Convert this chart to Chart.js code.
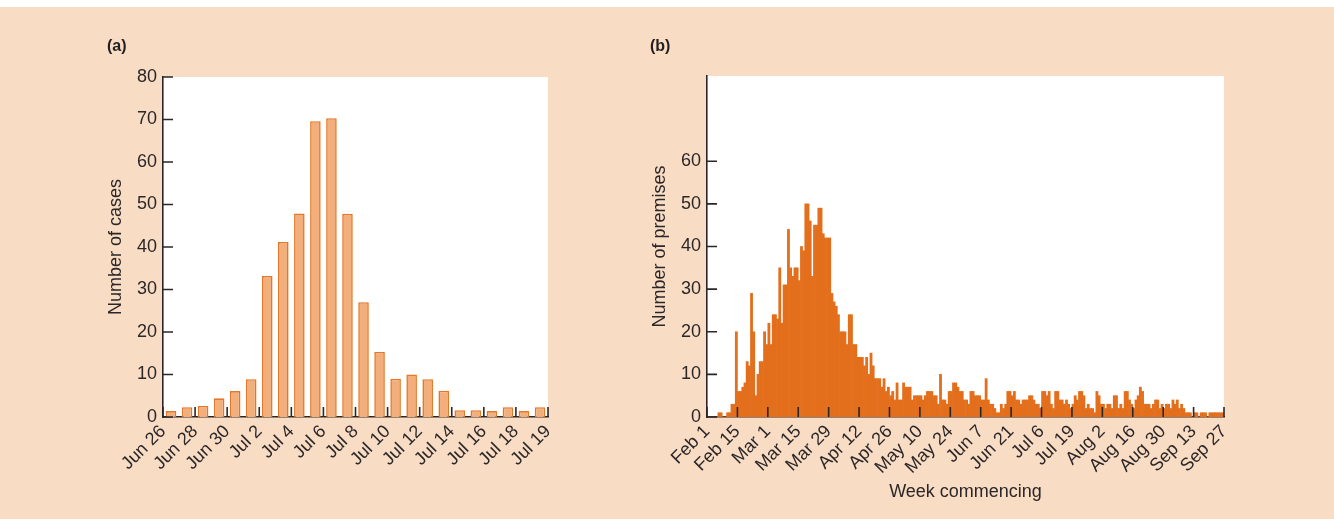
<!DOCTYPE html>
<html>
<head>
<meta charset="utf-8">
<script src="https://cdn.jsdelivr.net/npm/chart.js@4.4.1/dist/chart.umd.min.js"></script>
<style>
  body { margin: 0; background: #ffffff; font-family: "Liberation Sans", Arial, sans-serif; }
  #frame { position: absolute; left: 0; top: 7px; width: 1334px; height: 512px; background: #f9dcc4; }
  .panel { position: absolute; top: 0; height: 523px; }
  .tag { position: absolute; font-weight: bold; font-size: 16px; color: #231f20; }
</style>
</head>
<body>
<div id="frame"></div>
<div class="panel" style="left:0;width:600px"><canvas id="chartA" width="600" height="523"></canvas></div>
<div class="panel" style="left:600px;width:734px"><canvas id="chartB" width="734" height="523"></canvas></div>
<div class="tag" style="left:107px;top:37px">(a)</div>
<div class="tag" style="left:650px;top:37px">(b)</div>
<script>
// (a) cases per day, Jun 26 - Jul 19
var caseCounts = [1.4, 2.3, 2.6, 4.4, 6.1, 8.9, 33.2, 41.2, 47.9, 69.6, 70.3, 47.8,
                  27.0, 15.3, 9.0, 10.0, 8.9, 6.2, 1.6, 1.6, 1.4, 2.3, 1.4, 2.3];
var caseTickLabels = ['Jun 26', 'Jun 28', 'Jun 30', 'Jul 2', 'Jul 4', 'Jul 6', 'Jul 8',
                      'Jul 10', 'Jul 12', 'Jul 14', 'Jul 16', 'Jul 18', 'Jul 19'];

// (b) infected premises per day, from Feb 1 (one row = two weeks)
var premisesCounts = [
  0, 0, 0, 0, 0, 1, 1, 0, 0, 1, 1, 3, 3, 20,
  6, 6, 7, 8, 13, 12, 29, 20, 5, 10, 13, 13, 20, 17,
  22, 17, 24, 24, 23, 35, 22, 31, 31, 44, 35, 33, 35, 35,
  32, 40, 39, 50, 50, 46, 33, 45, 45, 49, 49, 43, 42, 42,
  42, 29, 27, 26, 24, 20, 20, 20, 17, 24, 24, 17, 17, 14,
  14, 14, 12, 14, 10, 15, 12, 9, 9, 9, 7, 9, 6, 7,
  5, 6, 4, 8, 4, 4, 8, 7, 7, 7, 4, 5, 5, 5,
  5, 4, 5, 6, 6, 6, 5, 5, 3, 10, 4, 4, 3, 6,
  6, 8, 8, 7, 6, 6, 4, 4, 3, 6, 6, 5, 5, 5,
  4, 4, 9, 4, 3, 3, 2, 1, 1, 3, 2, 3, 6, 6,
  5, 6, 4, 4, 3, 4, 4, 4, 5, 5, 4, 3, 3, 2,
  6, 6, 5, 6, 3, 2, 6, 6, 4, 4, 3, 4, 3, 2,
  3, 5, 4, 6, 6, 5, 2, 3, 2, 2, 1, 6, 5, 3,
  3, 2, 3, 3, 2, 5, 5, 2, 3, 2, 6, 6, 4, 3,
  2, 4, 5, 7, 6, 3, 3, 3, 2, 3, 4, 4, 2, 3,
  2, 3, 3, 2, 4, 3, 4, 2, 3, 2, 1, 1, 1, 0,
  1, 1, 0, 1, 1, 1, 0, 1, 1, 1, 1, 1, 1, 1
];
var premisesTickLabels = ['Feb 1', 'Feb 15', 'Mar 1', 'Mar 15', 'Mar 29', 'Apr 12', 'Apr 26',
                          'May 10', 'May 24', 'Jun 7', 'Jun 21', 'Jul 6', 'Jul 19', 'Aug 2',
                          'Aug 16', 'Aug 30', 'Sep 13', 'Sep 27'];

var ink = '#2b2728';
Chart.defaults.font.family = '"Liberation Sans", Arial, sans-serif';
Chart.defaults.font.size = 18;
Chart.defaults.color = ink;
Chart.defaults.animation = false;

// white plot area + inward tick marks
var plotFrame = {
  id: 'plotFrame',
  beforeDraw: function (chart) {
    var a = chart.chartArea;
    chart.ctx.save();
    chart.ctx.fillStyle = '#ffffff';
    chart.ctx.fillRect(a.left, a.top, a.right - a.left, a.bottom - a.top);
    chart.ctx.restore();
  },
  afterDatasetsDraw: function (chart) {
    var ctx = chart.ctx, a = chart.chartArea, x = chart.scales.x, y = chart.scales.y;
    ctx.save();
    ctx.strokeStyle = ink;
    ctx.lineWidth = 1.6;
    ctx.beginPath();
    x.ticks.forEach(function (t, i) {
      var px = x.getPixelForTick(i);
      ctx.moveTo(px, a.bottom);
      ctx.lineTo(px, a.bottom - 10);
    });
    y.ticks.forEach(function (t, i) {
      var py = y.getPixelForTick(i);
      ctx.moveTo(a.left, py);
      ctx.lineTo(a.left + 10, py);
    });
    ctx.stroke();
    ctx.restore();
  }
};

function xAxis(max, step, labels, height, title) {
  return {
    type: 'linear', min: 0, max: max, offset: false,
    grid: { display: false, drawTicks: false, offset: false },
    border: { display: true, color: ink, width: 1.6 },
    ticks: {
      stepSize: step, autoSkip: false, minRotation: 45, maxRotation: 45, padding: 4,
      callback: function (v) { return labels[Math.round(v / step)]; }
    },
    title: title,
    afterFit: function (s) { s.height = height; }
  };
}

function yAxis(max, width, titleText, titlePad, topTick) {
  return {
    min: 0, max: max,
    grid: { display: false, drawTicks: false },
    border: { display: true, color: ink, width: 1.6 },
    ticks: { stepSize: 10, padding: 6 },
    title: { display: true, text: titleText, padding: { top: titlePad, bottom: 0 } },
    afterBuildTicks: function (s) { s.ticks = s.ticks.filter(function (t) { return t.value <= topTick; }); },
    afterFit: function (s) { s.width = width; }
  };
}

new Chart(document.getElementById('chartA'), {
  type: 'bar',
  data: {
    datasets: [{
      data: caseCounts.map(function (v, i) { return { x: i + 0.5, y: v }; }),
      backgroundColor: '#f2ae7b',
      borderColor: '#e3782a',
      borderWidth: 1.6,
      barPercentage: 0.66,
      categoryPercentage: 1
    }]
  },
  options: {
    responsive: false,
    layout: { padding: { left: 0, right: 52, top: 77, bottom: 0 } },
    plugins: { legend: { display: false }, tooltip: { enabled: false } },
    scales: {
      x: xAxis(24, 2, caseTickLabels, 106, { display: false }),
      y: yAxis(80, 163, 'Number of cases', 105, 80)
    }
  },
  plugins: [plotFrame]
});

new Chart(document.getElementById('chartB'), {
  type: 'bar',
  data: {
    datasets: [{
      data: premisesCounts.map(function (v, i) { return { x: i + 0.5, y: v }; }),
      backgroundColor: '#e36f1d',
      borderWidth: 0,
      barPercentage: 1,
      categoryPercentage: 1
    }]
  },
  options: {
    responsive: false,
    layout: { padding: { left: 0, right: 110, top: 76, bottom: 0 } },
    plugins: { legend: { display: false }, tooltip: { enabled: false } },
    scales: {
      x: xAxis(238, 14, premisesTickLabels, 106,
               { display: true, text: 'Week commencing', padding: { top: 0, bottom: 20 } }),
      y: yAxis(80, 107, 'Number of premises', 49, 60)
    }
  },
  plugins: [plotFrame]
});
</script>
</body>
</html>
